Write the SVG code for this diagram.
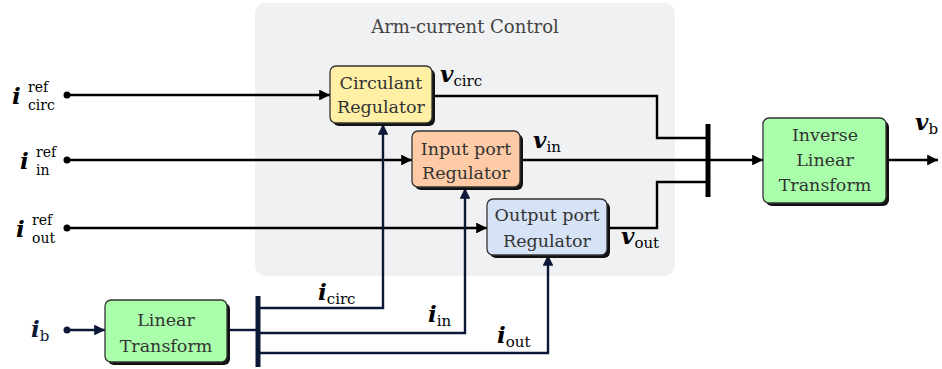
<svg xmlns="http://www.w3.org/2000/svg" width="942" height="369" viewBox="0 0 942 369">
<style>
.box{stroke:#333;stroke-width:1.3}
.shadow{fill:#111}
.bt{font-family:"DejaVu Serif","Liberation Serif",serif;font-size:17.5px;fill:#333;text-anchor:middle}
.w{fill:none;stroke:#000;stroke-width:2.4}
.n{fill:none;stroke:#0b1838;stroke-width:2.4}
.m{font-family:"DejaVu Serif","Liberation Serif",serif;font-size:23px;font-weight:bold;font-style:italic;fill:#000}
.s{font-family:"DejaVu Serif","Liberation Serif",serif;font-size:15px;font-weight:normal;font-style:normal}
.r{font-family:"DejaVu Serif","Liberation Serif",serif;font-size:14px;fill:#000}
.t{font-family:"DejaVu Serif","Liberation Serif",serif;font-size:18px;fill:#444;text-anchor:middle}
</style>
<defs>
<marker id="ab" viewBox="0 0 10 10" refX="10" refY="5" markerWidth="5" markerHeight="4.5" orient="auto" markerUnits="strokeWidth"><path d="M0,0L10,5L0,10z" fill="#000"/></marker>
<marker id="an" viewBox="0 0 10 10" refX="10" refY="5" markerWidth="5" markerHeight="4.5" orient="auto" markerUnits="strokeWidth"><path d="M0,0L10,5L0,10z" fill="#0b1838"/></marker>
</defs>
<g id="panel">
<rect x="255" y="3" width="420" height="273" rx="11" fill="#f0f1f3"/>
<text class="t" x="465" y="33">Arm-current Control</text>
</g>
<g id="connectors">
<circle cx="67" cy="95" r="3.5"/>
<circle cx="67" cy="160" r="3.5"/>
<circle cx="67" cy="228" r="3.5"/>
<circle cx="67" cy="330" r="3.5" fill="#0b1838"/>
<path class="w" d="M67,95H330" marker-end="url(#ab)"/>
<path class="w" d="M67,160H412" marker-end="url(#ab)"/>
<path class="w" d="M67,228H487" marker-end="url(#ab)"/>
<path class="w" d="M432,96H657V138H708"/>
<path class="w" d="M520,160H708"/>
<path class="w" d="M607,228H657V182H708"/>
<path class="w" d="M708,160H763" marker-end="url(#ab)"/>
<path class="w" d="M886,160H938" marker-end="url(#ab)"/>
<path d="M708,124V197" stroke="#000" stroke-width="5"/>
<path class="n" d="M67,330H105" marker-end="url(#an)"/>
<path class="n" d="M227,330H258"/>
<path d="M258,296V367" stroke="#0b1838" stroke-width="5"/>
<path class="n" d="M258,308H383V124" marker-end="url(#an)"/>
<path class="n" d="M258,333H465V188" marker-end="url(#an)"/>
<path class="n" d="M258,353H548V255" marker-end="url(#an)"/>
</g>
<g id="circulant">
<rect class="shadow" x="333" y="69" width="102" height="57" rx="6"/>
<rect class="box" x="330" y="66" width="102" height="57" rx="6" fill="#fff0a6"/>
<text class="bt" x="381" y="89">Circulant</text>
<text class="bt" x="381" y="113">Regulator</text>
</g>
<g id="input">
<rect class="shadow" x="415" y="134" width="108" height="56" rx="6"/>
<rect class="box" x="412" y="131" width="108" height="56" rx="6" fill="#ffcba6"/>
<text class="bt" x="466" y="155">Input port</text>
<text class="bt" x="466" y="179">Regulator</text>
</g>
<g id="output">
<rect class="shadow" x="490" y="202" width="120" height="56" rx="6"/>
<rect class="box" x="487" y="199" width="120" height="56" rx="6" fill="#d6e2f5"/>
<text class="bt" x="547" y="221">Output port</text>
<text class="bt" x="547" y="247">Regulator</text>
</g>
<g id="inverse">
<rect class="shadow" x="766" y="121" width="123" height="85" rx="6"/>
<rect class="box" x="763" y="118" width="123" height="85" rx="6" fill="#aaffaa"/>
<text class="bt" x="825" y="141">Inverse</text>
<text class="bt" x="825" y="166">Linear</text>
<text class="bt" x="825" y="191">Transform</text>
</g>
<g id="linear">
<rect class="shadow" x="108" y="303" width="122" height="62" rx="6"/>
<rect class="box" x="105" y="300" width="122" height="62" rx="6" fill="#aaffaa"/>
<text class="bt" x="166" y="326">Linear</text>
<text class="bt" x="166" y="352">Transform</text>
</g>
<g id="labels">
<text class="m" x="12" y="104">i</text><text class="r" x="28" y="92">ref</text><text class="r" x="28" y="110">circ</text>
<text class="m" x="20" y="169">i</text><text class="r" x="36" y="157">ref</text><text class="r" x="36" y="175">in</text>
<text class="m" x="16" y="237">i</text><text class="r" x="32" y="225">ref</text><text class="r" x="32" y="243">out</text>
<text class="m" x="31" y="337" style="fill:#0b1838">i<tspan class="s" dy="4">b</tspan></text>
<text class="m" x="440" y="82">v<tspan class="s" dy="4">circ</tspan></text>
<text class="m" x="533" y="148">v<tspan class="s" dy="4">in</tspan></text>
<text class="m" x="621" y="244">v<tspan class="s" dy="4">out</tspan></text>
<text class="m" x="915" y="130">v<tspan class="s" dy="4">b</tspan></text>
<text class="m" x="318" y="300">i<tspan class="s" dy="4">circ</tspan></text>
<text class="m" x="428" y="322">i<tspan class="s" dy="4">in</tspan></text>
<text class="m" x="497" y="343">i<tspan class="s" dy="4">out</tspan></text>
</g>
</svg>
